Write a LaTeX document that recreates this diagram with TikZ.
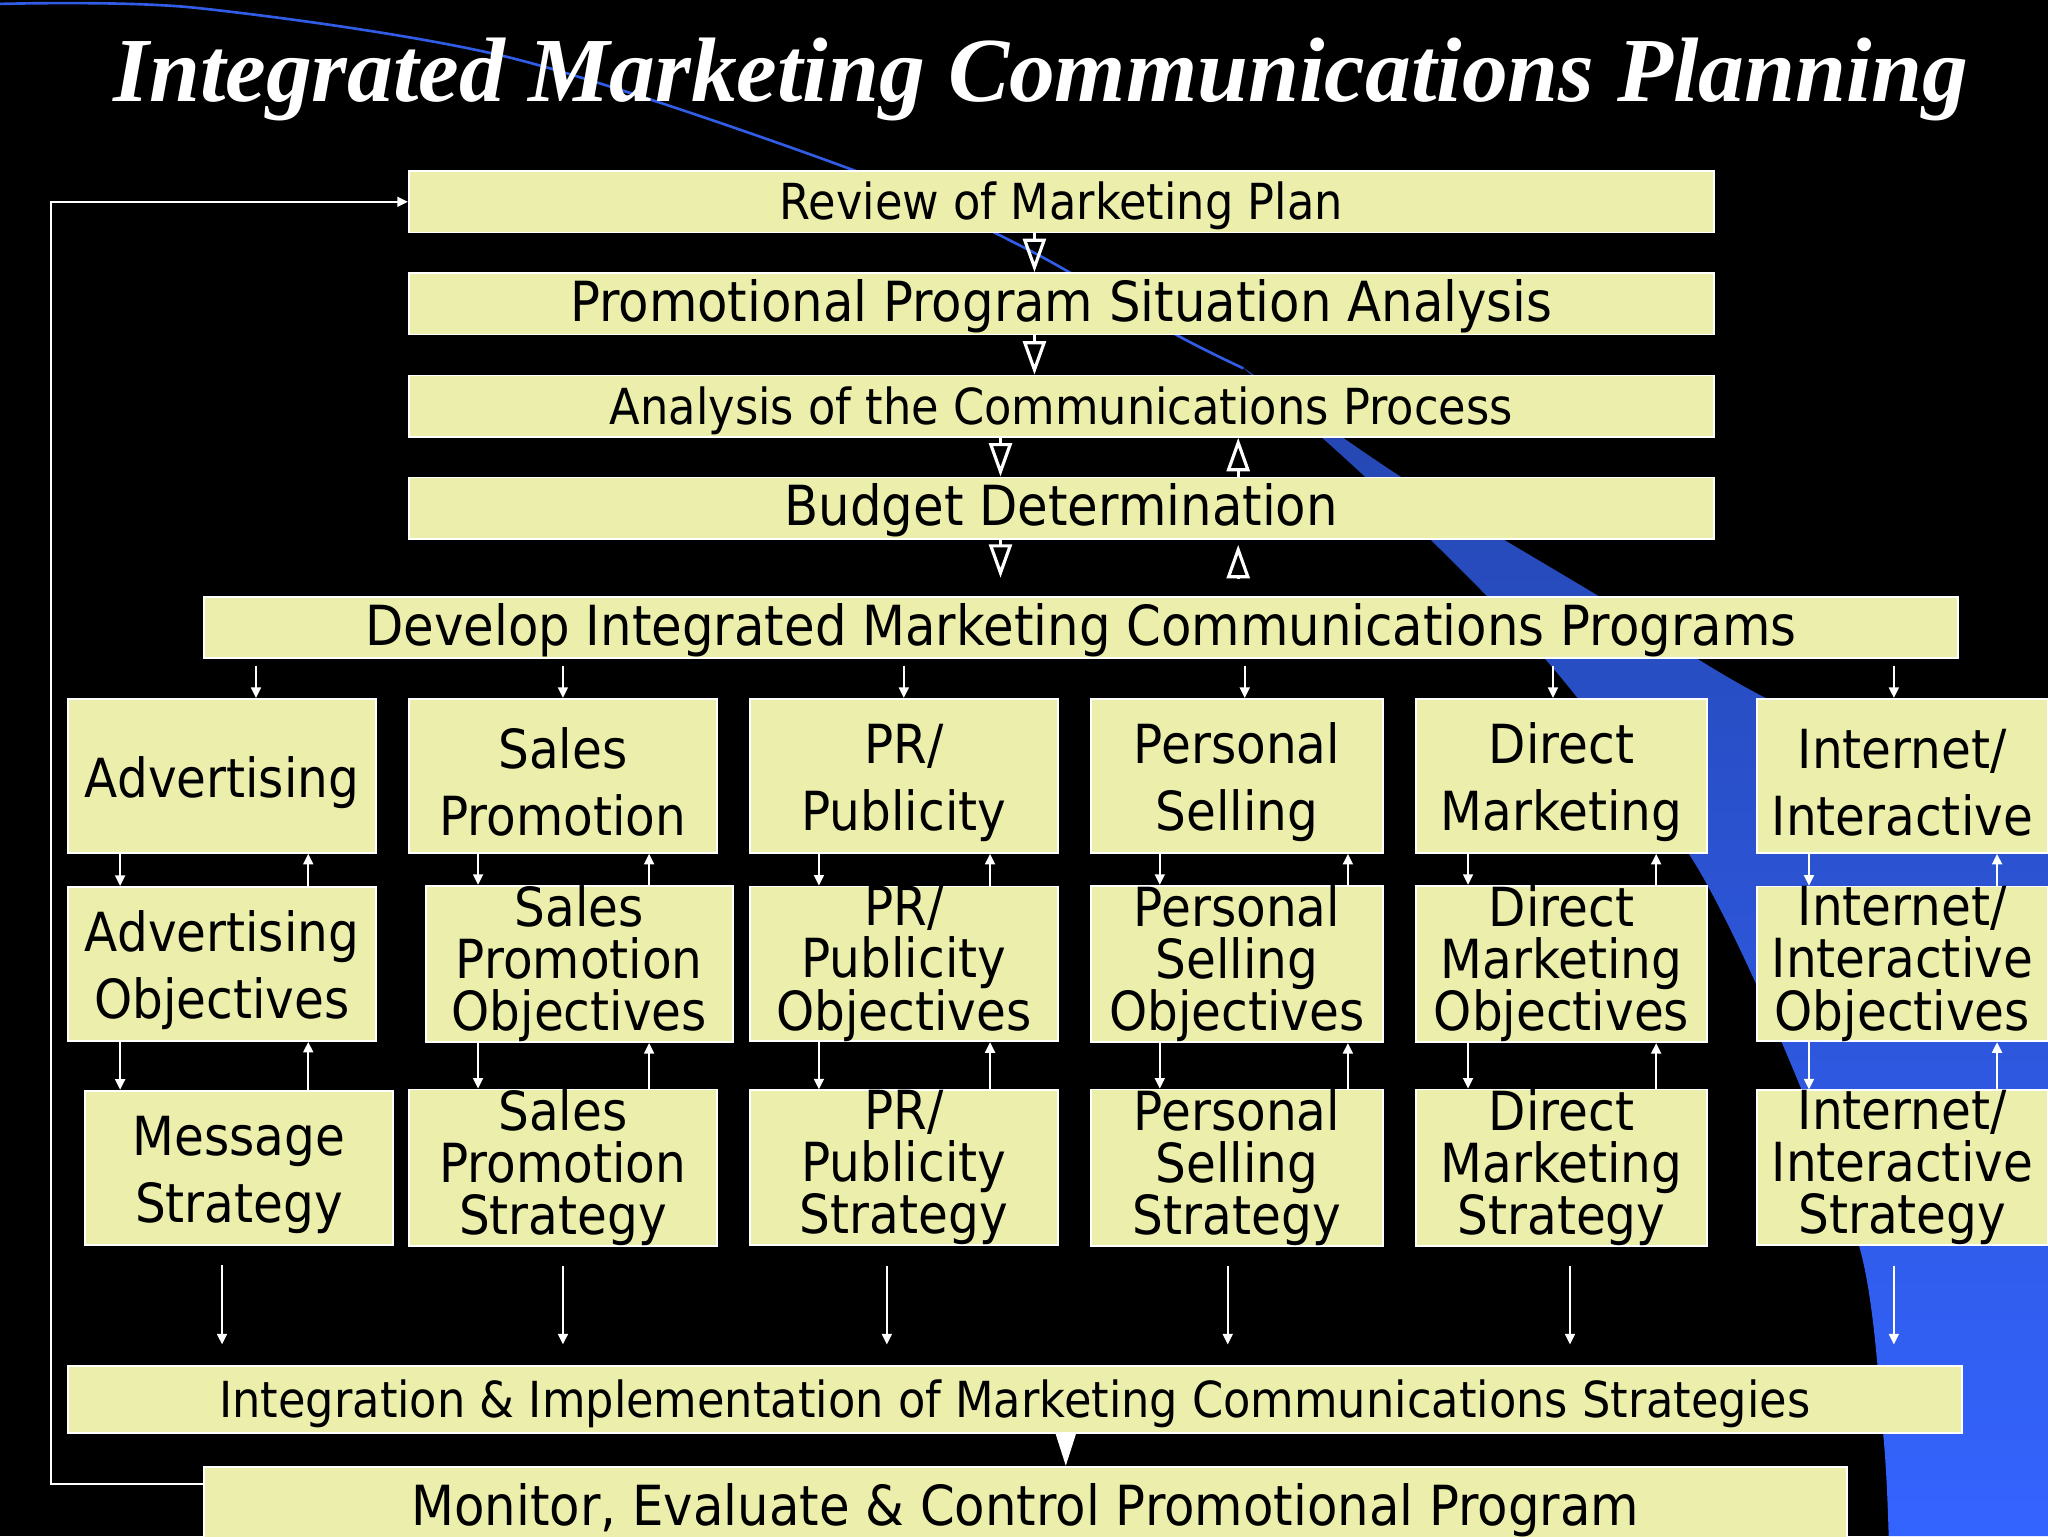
\documentclass[tikz,border=0pt]{standalone}
\usepackage{fontspec}
\setmainfont{DejaVu Sans}[FakeStretch=0.9]
\newfontfamily\titlefont{Liberation Serif}
\usetikzlibrary{arrows.meta,calc}
\definecolor{boxfill}{RGB}{236,239,172}
\definecolor{swtop}{RGB}{36,70,175}
\definecolor{swbot}{RGB}{52,100,255}
\definecolor{swline}{RGB}{48,92,230}
\newlength{\unitpx}
\setlength{\unitpx}{0.3708pt}
\newcommand{\bigtext}{\fontsize{15.7}{18.5}\selectfont}
\newcommand{\smalltext}{\fontsize{14.1}{17}\selectfont}
\newcommand{\celltext}{\fontsize{15.3}{19}\selectfont}
\newcommand{\tighttext}{\fontsize{15.3}{14.8}\selectfont\lineskiplimit=-\maxdimen}
\newcommand{\cellstrut}{\rule{0pt}{15.2pt}}
\tikzset{
  boxbase/.style={draw=white, line width=0.5pt, fill=boxfill, text=black, inner sep=0pt},
  strip/.style={boxbase, minimum height=47\unitpx, text height=13.5pt, text depth=3.4pt},
  cell/.style={boxbase, minimum width=236\unitpx, minimum height=118\unitpx, align=center, font=\celltext},
  cell3/.style={cell, font=\tighttext},
  arr/.style={draw=white, line width=0.6pt, -{Triangle[length=3pt,width=2.8pt]}},
  opentri/.style={draw=white, line width=0.9pt, -{Triangle[open,length=9.5pt,width=6.5pt]}},
  filltri/.style={draw=white, line width=0.8pt, -{Triangle[length=9pt,width=5.5pt]}}
}
\begin{document}
\begin{tikzpicture}[x=0.3708pt, y=-0.3708pt]
\fill[black] (0,0) rectangle (1568,1176);
\useasboundingbox (0,0) rectangle (1568,1176);
% background swoosh
\draw[swline, line width=0.75pt] plot[smooth] coordinates {(0,3) (150,6) (390,44) (650,129) (785,190) (900,256) (952,282)};
\shade[top color=swtop, bottom color=swbot] plot[smooth] coordinates {(950,280) (1044,364) (1139,457) (1209,536) (1300,665) (1365,800) (1425,960) (1442,1100) (1446,1176)}
  -- (1568,1176) -- (1568,630)
  -- plot[smooth] coordinates {(1568,630) (1355,536) (1225,457) (1074,366) (950,280)} -- cycle;

\node[anchor=base, text=white, font=\titlefont\fontsize{26}{30}\selectfont\bfseries\itshape] (title) at (797,78) {Integrated Marketing Communications Planning};

\node[strip, minimum width=999\unitpx, font=\smalltext] (rev) at (812.5,154.5) {Review of Marketing Plan};
\node[strip, minimum width=999\unitpx, font=\bigtext] (promo) at (812.5,232.5) {Promotional Program Situation Analysis};
\node[strip, minimum width=999\unitpx, font=\smalltext] (comm) at (812.5,311) {Analysis of the Communications Process};
\node[strip, minimum width=999\unitpx, font=\bigtext] (budget) at (812.5,389) {Budget Determination};
\node[strip, minimum width=1343\unitpx, font=\bigtext] (dev) at (827.5,480.5) {Develop Integrated Marketing Communications Programs};

\node[cell] (adv1) at (170,594) {\cellstrut Advertising};
\node[cell] (sp1) at (431,594) {\cellstrut Sales\\Promotion};
\node[cell] (pr1) at (692,594) {\cellstrut PR/\\Publicity};
\node[cell, minimum width=224\unitpx] (ps1) at (947,594) {\cellstrut Personal\\Selling};
\node[cell, minimum width=223\unitpx] (dm1) at (1195.5,594) {\cellstrut Direct\\Marketing};
\node[cell, minimum width=223\unitpx] (ii1) at (1456.5,594) {\cellstrut Internet/\\Interactive};

\node[cell] (adv2) at (170,738) {\cellstrut Advertising\\Objectives};
\node[cell3, minimum width=235\unitpx] (sp2) at (443.5,738) {Sales\\Promotion\\Objectives};
\node[cell3] (pr2) at (692,738) {PR/\\Publicity\\Objectives};
\node[cell3, minimum width=224\unitpx] (ps2) at (947,738) {Personal\\Selling\\Objectives};
\node[cell3, minimum width=223\unitpx] (dm2) at (1195.5,738) {Direct\\Marketing\\Objectives};
\node[cell3, minimum width=223\unitpx] (ii2) at (1456.5,738) {Internet/\\Interactive\\Objectives};

\node[cell] (adv3) at (183,894) {\cellstrut Message\\Strategy};
\node[cell3] (sp3) at (431,894) {Sales\\Promotion\\Strategy};
\node[cell3] (pr3) at (692,894) {PR/\\Publicity\\Strategy};
\node[cell3, minimum width=224\unitpx] (ps3) at (947,894) {Personal\\Selling\\Strategy};
\node[cell3, minimum width=223\unitpx] (dm3) at (1195.5,894) {Direct\\Marketing\\Strategy};
\node[cell3, minimum width=223\unitpx] (ii3) at (1456.5,894) {Internet/\\Interactive\\Strategy};

\node[strip, minimum width=1450\unitpx, minimum height=51\unitpx, font=\smalltext] (integ) at (777,1071.5) {Integration \& Implementation of Marketing Communications Strategies};
\node[strip, minimum width=1258\unitpx, minimum height=62\unitpx, font=\bigtext] (mon) at (785,1154) {Monitor, Evaluate \& Control Promotional Program};

\draw[opentri] (792,0 |- rev.south) -- (792,0 |- promo.north);
\draw[opentri] (792,0 |- promo.south) -- (792,0 |- comm.north);
\draw[opentri] (766,0 |- comm.south) -- (766,0 |- budget.north);
\draw[opentri] (948,0 |- budget.north) -- (948,0 |- comm.south);
\draw[opentri, shorten >=14\unitpx] (766,0 |- budget.south) -- (766,0 |- dev.north);
\draw[opentri, shorten <=14\unitpx, shorten >=4\unitpx] (948,0 |- dev.north) -- (948,0 |- budget.south);

\foreach \col/\xa/\xb/\xc/\xd in {adv/196/92/236/170, sp/431/366/497/431, pr/692/627/758/679, ps/953/888/1032/940, dm/1189/1124/1268/1202, ii/1450/1385/1529/1450}{
  \draw[arr, shorten <=5\unitpx] (\xa,0 |- dev.south) -- (\xa,0 |- \col1.north);
  \draw[arr] (\xb,0 |- \col1.south) -- (\xb,0 |- \col2.north);
  \draw[arr] (\xc,0 |- \col2.north) -- (\xc,0 |- \col1.south);
  \draw[arr] (\xb,0 |- \col2.south) -- (\xb,0 |- \col3.north);
  \draw[arr] (\xc,0 |- \col3.north) -- (\xc,0 |- \col2.south);
  \draw[arr, shorten <=15\unitpx, shorten >=16\unitpx] (\xd,0 |- \col3.south) -- (\xd,0 |- integ.north);
}

\draw[filltri] (816,0 |- integ.south) -- (816,0 |- mon.north);
\coordinate (fb) at (39,154.5);
\draw[arr] ($(mon.north west)+(0,14)$) -| (fb) -- (rev.west);
\end{tikzpicture}
\end{document}
